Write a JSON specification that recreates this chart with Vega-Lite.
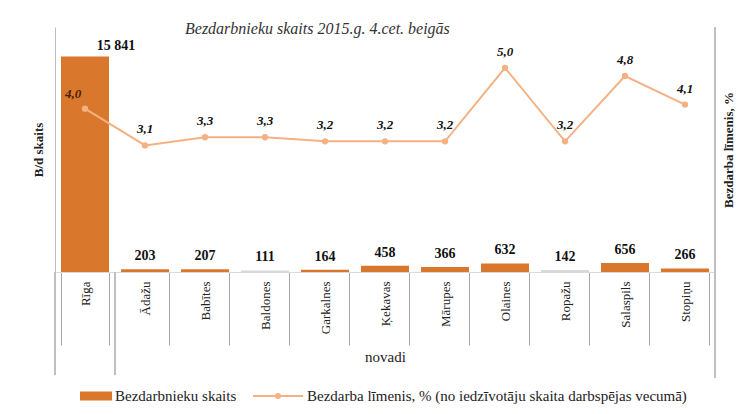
{
  "$schema": "https://vega.github.io/schema/vega-lite/v6.json",
  "width": 660,
  "height": 245,
  "autosize": "none",
  "padding": {"left": 55, "top": 27, "right": 36, "bottom": 142},
  "background": "white",
  "config": {
    "locale": {"number": {"decimal": ",", "thousands": " ", "grouping": [3], "currency": ["", ""]}},
    "font": "Liberation Serif",
    "view": {"stroke": null}
  },
  "title": {
    "text": "Bezdarbnieku skaits 2015.g. 4.cet. beigās",
    "font": "Liberation Serif",
    "fontStyle": "italic",
    "fontWeight": "normal",
    "fontSize": 16,
    "color": "#333333",
    "anchor": "start",
    "dx": 153,
    "offset": -10
  },
  "data": {
    "values": [
      {"novads": "Rīga", "skaits": 15841, "limenis": 4.0},
      {"novads": "Ādažu", "skaits": 203, "limenis": 3.1},
      {"novads": "Babītes", "skaits": 207, "limenis": 3.3},
      {"novads": "Baldones", "skaits": 111, "limenis": 3.3},
      {"novads": "Garkalnes", "skaits": 164, "limenis": 3.2},
      {"novads": "Ķekavas", "skaits": 458, "limenis": 3.2},
      {"novads": "Mārupes", "skaits": 366, "limenis": 3.2},
      {"novads": "Olaines", "skaits": 632, "limenis": 5.0},
      {"novads": "Ropažu", "skaits": 142, "limenis": 3.2},
      {"novads": "Salaspils", "skaits": 656, "limenis": 4.8},
      {"novads": "Stopiņu", "skaits": 266, "limenis": 4.1}
    ]
  },
  "encoding": {
    "x": {
      "field": "novads",
      "type": "nominal",
      "sort": null,
      "scale": {"paddingInner": 0.2, "paddingOuter": 0.1},
      "axis": {
        "title": "novadi",
        "titleFont": "Liberation Serif",
        "titleFontWeight": "normal",
        "titleFontSize": 15,
        "titleColor": "#222222",
        "titlePadding": 4,
        "labelAngle": -90,
        "labelFont": "Liberation Serif",
        "labelFontSize": 13,
        "labelColor": "#222222",
        "labelPadding": -64,
        "tickBand": "extent",
        "tickSize": 73,
        "tickColor": "#a6a6a6",
        "domainColor": "#d9d9d9"
      }
    }
  },
  "layer": [
    {
      "layer": [
        {
          "mark": {"type": "bar"},
          "encoding": {
            "y": {
              "field": "skaits",
              "type": "quantitative",
              "scale": {"domain": [0, 18000]},
              "axis": {
                "title": "B/d skaits",
                "titleFont": "Liberation Serif",
                "titleFontWeight": "bold",
                "titleFontSize": 13,
                "titleColor": "#222222",
                "titlePadding": 10,
                "labels": false,
                "ticks": false,
                "grid": false,
                "domainColor": "#bfbfbf"
              }
            },
            "color": {
              "condition": {"test": "datum.novads === 'Baldones' || datum.novads === 'Ropažu'", "value": "#d9d9d9"},
              "datum": "Bezdarbnieku skaits",
              "type": "nominal",
              "scale": {
                "domain": ["Bezdarbnieku skaits", "Bezdarba līmenis, % (no iedzīvotāju skaita darbspējas vecumā)"],
                "range": ["#D9782D", "#F4B183"]
              },
              "legend": {
                "orient": "none",
                "legendX": 5,
                "legendY": 343,
                "direction": "horizontal",
                "title": null,
                "labelFont": "Liberation Serif",
                "labelFontSize": 15,
                "labelColor": "#222222",
                "labelOffset": 3,
                "labelLimit": 500,
                "columnPadding": 12,
                "symbolSize": 2500,
                "encode": {
                  "symbols": {
                    "update": {
                      "shape": {"signal": "datum.value === 'Bezdarbnieku skaits' ? 'M-0.2,-0.14H1V0.14H-0.2Z' : 'M-1,0H1M0.08,0A0.08,0.08 0 1,1 -0.08,0A0.08,0.08 0 1,1 0.08,0Z'"},
                      "fill": {"signal": "scale('color', datum.value)"},
                      "stroke": {"signal": "scale('color', datum.value)"},
                      "strokeWidth": {"value": 2},
                      "opacity": {"value": 1},
                      "fillOpacity": {"value": 1}
                    }
                  }
                }
              }
            }
          }
        },
        {
          "mark": {"type": "rule", "color": "#bfbfbf", "strokeWidth": 1},
          "encoding": {
            "x": {"datum": "Rīga", "bandPosition": -0.125},
            "y": {"datum": 0, "type": "quantitative"},
            "y2": {"datum": -7570}
          }
        },
        {
          "mark": {"type": "rule", "color": "#bfbfbf", "strokeWidth": 1},
          "encoding": {
            "x": {"datum": "Ādažu", "bandPosition": -0.125},
            "y": {"datum": 0, "type": "quantitative"},
            "y2": {"datum": -7570}
          }
        },
        {
          "mark": {"type": "rule", "color": "#bfbfbf", "strokeWidth": 1},
          "encoding": {
            "x": {"datum": "Stopiņu", "bandPosition": 1.125},
            "y": {"datum": 18000, "type": "quantitative"},
            "y2": {"datum": -7790}
          }
        },
        {
          "transform": [{"filter": "datum.novads !== 'Rīga'"}],
          "mark": {"type": "text", "fontWeight": "bold", "fontSize": 14, "baseline": "bottom", "dy": -6, "color": "#111111", "font": "Liberation Serif"},
          "encoding": {
            "y": {"field": "skaits", "type": "quantitative"},
            "text": {"field": "skaits", "type": "quantitative", "format": ","}
          }
        },
        {
          "transform": [{"filter": "datum.novads === 'Rīga'"}],
          "mark": {"type": "text", "fontWeight": "bold", "fontSize": 14, "baseline": "bottom", "dy": -3, "dx": 31, "color": "#111111", "font": "Liberation Serif"},
          "encoding": {
            "y": {"field": "skaits", "type": "quantitative"},
            "text": {"field": "skaits", "type": "quantitative", "format": ","}
          }
        }
      ]
    },
    {
      "layer": [
        {
          "mark": {"type": "line", "strokeWidth": 2, "point": {"filled": true, "size": 40}},
          "encoding": {
            "y": {
              "field": "limenis",
              "type": "quantitative",
              "scale": {"domain": [0, 6]},
              "axis": {
                "orient": "right",
                "title": "Bezdarba līmenis, %",
                "titleAngle": 270,
                "titleFont": "Liberation Serif",
                "titleFontWeight": "bold",
                "titleFontSize": 13,
                "titleColor": "#222222",
                "titlePadding": 20,
                "labels": false,
                "ticks": false,
                "grid": false,
                "domainColor": "#bfbfbf"
              }
            },
            "color": {"datum": "Bezdarba līmenis, % (no iedzīvotāju skaita darbspējas vecumā)", "type": "nominal"}
          }
        },
        {
          "transform": [{"filter": "datum.novads !== 'Rīga'"}],
          "mark": {"type": "text", "fontWeight": "bold", "fontStyle": "italic", "fontSize": 13, "baseline": "bottom", "dy": -9, "color": "#111111", "font": "Liberation Serif"},
          "encoding": {
            "y": {"field": "limenis", "type": "quantitative"},
            "text": {"field": "limenis", "type": "quantitative", "format": ".1f"}
          }
        },
        {
          "transform": [{"filter": "datum.novads === 'Rīga'"}],
          "mark": {"type": "text", "fontWeight": "bold", "fontStyle": "italic", "fontSize": 13, "baseline": "bottom", "dy": -8, "dx": -12, "color": "#4a1f05", "font": "Liberation Serif"},
          "encoding": {
            "y": {"field": "limenis", "type": "quantitative"},
            "text": {"field": "limenis", "type": "quantitative", "format": ".1f"}
          }
        }
      ]
    }
  ],
  "resolve": {"scale": {"y": "independent"}}
}
